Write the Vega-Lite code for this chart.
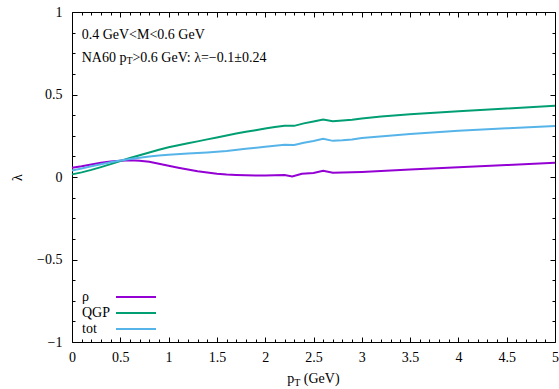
{
  "$schema": "https://vega.github.io/schema/vega-lite/v6.json",
  "width": 483,
  "height": 330,
  "autosize": {"type": "none"},
  "padding": {"left": 72, "top": 12, "right": 4, "bottom": 47},
  "background": "white",
  "config": {
    "font": "Liberation Serif",
    "view": {"stroke": "black", "strokeWidth": 1},
    "axis": {
      "domain": false,
      "grid": false,
      "tickColor": "black",
      "tickWidth": 1,
      "labelFont": "Liberation Serif",
      "labelFontSize": 14,
      "labelColor": "black",
      "labelOverlap": false,
      "labelFlush": false,
      "labelBound": false,
      "titleFont": "Liberation Serif",
      "titleFontSize": 14,
      "titleFontWeight": "normal",
      "titleColor": "black"
    },
    "text": {"font": "Liberation Serif", "color": "black"}
  },
  "datasets": {
    "curves": [
      {"series": "ρ", "pT": 0.0, "lambda": 0.056},
      {"series": "ρ", "pT": 0.1, "lambda": 0.065},
      {"series": "ρ", "pT": 0.2, "lambda": 0.076},
      {"series": "ρ", "pT": 0.3, "lambda": 0.086},
      {"series": "ρ", "pT": 0.4, "lambda": 0.094},
      {"series": "ρ", "pT": 0.5, "lambda": 0.099},
      {"series": "ρ", "pT": 0.6, "lambda": 0.101},
      {"series": "ρ", "pT": 0.7, "lambda": 0.099},
      {"series": "ρ", "pT": 0.8, "lambda": 0.092},
      {"series": "ρ", "pT": 0.9, "lambda": 0.08},
      {"series": "ρ", "pT": 1.0, "lambda": 0.068},
      {"series": "ρ", "pT": 1.1, "lambda": 0.056},
      {"series": "ρ", "pT": 1.2, "lambda": 0.045},
      {"series": "ρ", "pT": 1.3, "lambda": 0.035},
      {"series": "ρ", "pT": 1.4, "lambda": 0.027},
      {"series": "ρ", "pT": 1.5, "lambda": 0.02},
      {"series": "ρ", "pT": 1.6, "lambda": 0.015},
      {"series": "ρ", "pT": 1.7, "lambda": 0.012},
      {"series": "ρ", "pT": 1.8, "lambda": 0.01},
      {"series": "ρ", "pT": 1.9, "lambda": 0.009},
      {"series": "ρ", "pT": 2.0, "lambda": 0.009},
      {"series": "ρ", "pT": 2.1, "lambda": 0.01},
      {"series": "ρ", "pT": 2.2, "lambda": 0.012},
      {"series": "ρ", "pT": 2.28, "lambda": 0.003},
      {"series": "ρ", "pT": 2.38, "lambda": 0.02},
      {"series": "ρ", "pT": 2.5, "lambda": 0.024},
      {"series": "ρ", "pT": 2.6, "lambda": 0.038},
      {"series": "ρ", "pT": 2.7, "lambda": 0.026},
      {"series": "ρ", "pT": 2.8, "lambda": 0.028},
      {"series": "ρ", "pT": 2.9, "lambda": 0.029},
      {"series": "ρ", "pT": 3.0, "lambda": 0.031},
      {"series": "ρ", "pT": 3.5, "lambda": 0.045},
      {"series": "ρ", "pT": 4.0, "lambda": 0.059},
      {"series": "ρ", "pT": 4.5, "lambda": 0.072},
      {"series": "ρ", "pT": 5.0, "lambda": 0.086},

      {"series": "QGP", "pT": 0.0, "lambda": 0.016},
      {"series": "QGP", "pT": 0.1, "lambda": 0.028},
      {"series": "QGP", "pT": 0.2, "lambda": 0.043},
      {"series": "QGP", "pT": 0.3, "lambda": 0.06},
      {"series": "QGP", "pT": 0.4, "lambda": 0.078},
      {"series": "QGP", "pT": 0.5, "lambda": 0.097},
      {"series": "QGP", "pT": 0.6, "lambda": 0.115},
      {"series": "QGP", "pT": 0.7, "lambda": 0.132},
      {"series": "QGP", "pT": 0.8, "lambda": 0.148},
      {"series": "QGP", "pT": 0.9, "lambda": 0.165},
      {"series": "QGP", "pT": 1.0, "lambda": 0.18},
      {"series": "QGP", "pT": 1.1, "lambda": 0.193},
      {"series": "QGP", "pT": 1.2, "lambda": 0.205},
      {"series": "QGP", "pT": 1.3, "lambda": 0.216},
      {"series": "QGP", "pT": 1.4, "lambda": 0.228},
      {"series": "QGP", "pT": 1.5, "lambda": 0.24},
      {"series": "QGP", "pT": 1.6, "lambda": 0.252},
      {"series": "QGP", "pT": 1.7, "lambda": 0.263},
      {"series": "QGP", "pT": 1.8, "lambda": 0.274},
      {"series": "QGP", "pT": 1.9, "lambda": 0.284},
      {"series": "QGP", "pT": 2.0, "lambda": 0.294},
      {"series": "QGP", "pT": 2.1, "lambda": 0.303},
      {"series": "QGP", "pT": 2.2, "lambda": 0.311},
      {"series": "QGP", "pT": 2.3, "lambda": 0.31},
      {"series": "QGP", "pT": 2.4, "lambda": 0.325},
      {"series": "QGP", "pT": 2.5, "lambda": 0.336},
      {"series": "QGP", "pT": 2.6, "lambda": 0.348},
      {"series": "QGP", "pT": 2.7, "lambda": 0.338},
      {"series": "QGP", "pT": 2.8, "lambda": 0.342},
      {"series": "QGP", "pT": 2.9, "lambda": 0.347},
      {"series": "QGP", "pT": 3.0, "lambda": 0.355},
      {"series": "QGP", "pT": 3.2, "lambda": 0.366},
      {"series": "QGP", "pT": 3.5, "lambda": 0.38},
      {"series": "QGP", "pT": 4.0, "lambda": 0.398},
      {"series": "QGP", "pT": 4.5, "lambda": 0.415},
      {"series": "QGP", "pT": 5.0, "lambda": 0.432},

      {"series": "tot", "pT": 0.0, "lambda": 0.04},
      {"series": "tot", "pT": 0.1, "lambda": 0.052},
      {"series": "tot", "pT": 0.2, "lambda": 0.065},
      {"series": "tot", "pT": 0.3, "lambda": 0.077},
      {"series": "tot", "pT": 0.4, "lambda": 0.089},
      {"series": "tot", "pT": 0.5, "lambda": 0.1},
      {"series": "tot", "pT": 0.6, "lambda": 0.109},
      {"series": "tot", "pT": 0.7, "lambda": 0.117},
      {"series": "tot", "pT": 0.8, "lambda": 0.124},
      {"series": "tot", "pT": 0.9, "lambda": 0.13},
      {"series": "tot", "pT": 1.0, "lambda": 0.135},
      {"series": "tot", "pT": 1.2, "lambda": 0.142},
      {"series": "tot", "pT": 1.4, "lambda": 0.149},
      {"series": "tot", "pT": 1.6, "lambda": 0.158},
      {"series": "tot", "pT": 1.8, "lambda": 0.171},
      {"series": "tot", "pT": 2.0, "lambda": 0.183},
      {"series": "tot", "pT": 2.2, "lambda": 0.196},
      {"series": "tot", "pT": 2.3, "lambda": 0.194},
      {"series": "tot", "pT": 2.4, "lambda": 0.208},
      {"series": "tot", "pT": 2.5, "lambda": 0.218},
      {"series": "tot", "pT": 2.6, "lambda": 0.231},
      {"series": "tot", "pT": 2.7, "lambda": 0.219},
      {"series": "tot", "pT": 2.8, "lambda": 0.222},
      {"series": "tot", "pT": 2.9, "lambda": 0.227},
      {"series": "tot", "pT": 3.0, "lambda": 0.236},
      {"series": "tot", "pT": 3.5, "lambda": 0.26},
      {"series": "tot", "pT": 4.0, "lambda": 0.28},
      {"series": "tot", "pT": 4.5, "lambda": 0.295},
      {"series": "tot", "pT": 5.0, "lambda": 0.309}
    ],
    "notes": [
      {"role": "main", "x": 0.1, "y": 0.839, "text": "0.4 GeV<M<0.6 GeV"},
      {"role": "main", "x": 0.1, "y": 0.699, "text": "NA60 p"},
      {"role": "sub", "x": 0.563, "y": 0.682, "text": "T"},
      {"role": "main", "x": 0.626, "y": 0.699, "text": ">0.6 GeV: λ=−0.1±0.24"},
      {"role": "main", "x": 2.229, "y": -1.2485, "text": "p"},
      {"role": "sub", "x": 2.301, "y": -1.266, "text": "T"},
      {"role": "main", "x": 2.4, "y": -1.2485, "text": " (GeV)"}
    ]
  },
  "layer": [
    {
      "mark": {"type": "rule", "color": "#808080", "strokeWidth": 1.5, "strokeDash": [4, 8]},
      "encoding": {
        "x": {
          "datum": 0,
          "type": "quantitative",
          "scale": {"domain": [0, 5], "nice": false, "zero": false},
          "axis": {
            "orient": "top",
            "title": null,
            "labels": false,
            "values": [0, 0.1, 0.2, 0.3, 0.4, 0.5, 0.6, 0.7, 0.8, 0.9, 1, 1.1, 1.2, 1.3, 1.4, 1.5, 1.6, 1.7, 1.8, 1.9, 2, 2.1, 2.2, 2.3, 2.4, 2.5, 2.6, 2.7, 2.8, 2.9, 3, 3.1, 3.2, 3.3, 3.4, 3.5, 3.6, 3.7, 3.8, 3.9, 4, 4.1, 4.2, 4.3, 4.4, 4.5, 4.6, 4.7, 4.8, 4.9, 5],
            "tickSize": {"condition": {"test": "abs(datum.value*2-round(datum.value*2))<1e-6", "value": -5}, "value": -3}
          }
        },
        "x2": {"datum": 5},
        "y": {
          "datum": 0,
          "type": "quantitative",
          "scale": {"domain": [-1, 1], "nice": false, "zero": false},
          "axis": {
            "orient": "right",
            "title": null,
            "labels": false,
            "values": [-1, -0.875, -0.75, -0.625, -0.5, -0.375, -0.25, -0.125, 0, 0.125, 0.25, 0.375, 0.5, 0.625, 0.75, 0.875, 1],
            "tickSize": {"condition": {"test": "abs(datum.value*2-round(datum.value*2))<1e-6", "value": -5}, "value": -3}
          }
        }
      }
    },
    {
      "data": {"name": "curves"},
      "mark": {"type": "line", "strokeWidth": 2},
      "encoding": {
        "x": {
          "field": "pT",
          "type": "quantitative",
          "axis": {
            "orient": "bottom",
            "title": null,
            "labelPadding": 13,
            "values": [0, 0.1, 0.2, 0.3, 0.4, 0.5, 0.6, 0.7, 0.8, 0.9, 1, 1.1, 1.2, 1.3, 1.4, 1.5, 1.6, 1.7, 1.8, 1.9, 2, 2.1, 2.2, 2.3, 2.4, 2.5, 2.6, 2.7, 2.8, 2.9, 3, 3.1, 3.2, 3.3, 3.4, 3.5, 3.6, 3.7, 3.8, 3.9, 4, 4.1, 4.2, 4.3, 4.4, 4.5, 4.6, 4.7, 4.8, 4.9, 5],
            "labelExpr": "abs(datum.value*2-round(datum.value*2))<1e-6 ? format(datum.value, '~g') : ''",
            "tickSize": {"condition": {"test": "abs(datum.value*2-round(datum.value*2))<1e-6", "value": -5}, "value": -3}
          }
        },
        "y": {
          "field": "lambda",
          "type": "quantitative",
          "axis": {
            "orient": "left",
            "title": "λ",
            "titleAngle": 270,
            "titleAlign": "center",
            "titleBaseline": "middle",
            "titleX": -55,
            "titleY": 165,
            "labelPadding": 15,
            "values": [-1, -0.875, -0.75, -0.625, -0.5, -0.375, -0.25, -0.125, 0, 0.125, 0.25, 0.375, 0.5, 0.625, 0.75, 0.875, 1],
            "labelExpr": "abs(datum.value*2-round(datum.value*2))<1e-6 ? format(datum.value, '~g') : ''",
            "tickSize": {"condition": {"test": "abs(datum.value*2-round(datum.value*2))<1e-6", "value": -5}, "value": -3}
          }
        },
        "color": {
          "field": "series",
          "type": "nominal",
          "scale": {"domain": ["ρ", "QGP", "tot"], "range": ["#9400d3", "#009e73", "#56b4e9"]},
          "legend": {
            "orient": "none",
            "legendX": 57,
            "legendY": 278,
            "title": null,
            "padding": 0,
            "symbolType": "M-4,0L4,0",
            "symbolSize": 100,
            "symbolStrokeWidth": 2,
            "labelFont": "Liberation Serif",
            "labelFontSize": 14,
            "labelColor": "black",
            "labelOffset": -61,
            "rowPadding": 2
          }
        }
      }
    },
    {
      "data": {"name": "notes"},
      "transform": [{"filter": "datum.role == 'main'"}],
      "mark": {"type": "text", "align": "left", "baseline": "alphabetic", "fontSize": 14},
      "encoding": {
        "x": {"field": "x", "type": "quantitative", "axis": null},
        "y": {"field": "y", "type": "quantitative", "axis": null},
        "text": {"field": "text"}
      }
    },
    {
      "data": {"name": "notes"},
      "transform": [{"filter": "datum.role == 'sub'"}],
      "mark": {"type": "text", "align": "left", "baseline": "alphabetic", "fontSize": 10},
      "encoding": {
        "x": {"field": "x", "type": "quantitative", "axis": null},
        "y": {"field": "y", "type": "quantitative", "axis": null},
        "text": {"field": "text"}
      }
    }
  ],
  "resolve": {"axis": {"x": "independent", "y": "independent"}}
}
